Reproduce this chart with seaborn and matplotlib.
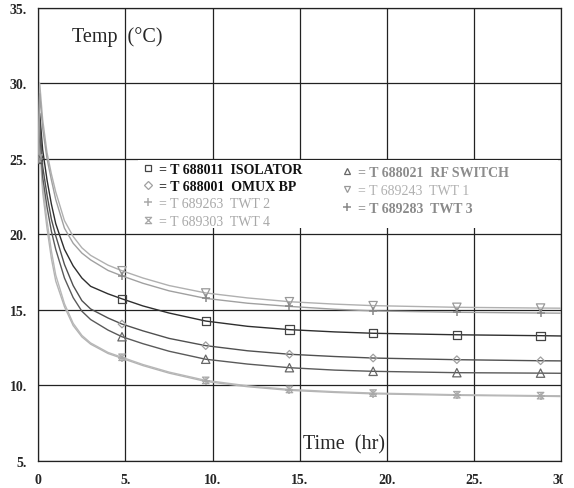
import numpy as np
import pandas as pd
import matplotlib
matplotlib.use("Agg")
import matplotlib.pyplot as plt
from matplotlib.lines import Line2D
from matplotlib.path import Path
from matplotlib.patches import Rectangle
import seaborn as sns

# Readings: time (hr) and temperature (deg C) per unit
times = [0, 0.08, 0.25, 0.5, 0.75, 1.0, 1.5, 2.0, 2.5, 3.0, 4.0, 4.8,
         6.0, 7.5, 9.6, 12.0, 14.4, 17.0, 19.2, 24.0, 28.8, 30.0]
marker_times = [0, 4.8, 9.6, 14.4, 19.2, 24.0, 28.8]

isolator = [25.0, 28.0, 25.6, 23.6, 22.0, 20.7, 19.0, 17.9, 17.1, 16.55, 16.05, 15.72,
            15.25, 14.78, 14.25, 13.9, 13.68, 13.53, 13.44, 13.34, 13.28, 13.26]
omux_bp = [25.0, 27.5, 24.5, 22.6, 21.0, 19.9, 18.0, 16.6, 15.6, 15.05, 14.45, 14.05,
           13.6, 13.1, 12.62, 12.28, 12.05, 11.9, 11.8, 11.69, 11.62, 11.61]
rf_switch = [25.0, 27.0, 23.8, 21.8, 20.2, 19.0, 17.1, 15.8, 14.9, 14.35, 13.65, 13.21,
             12.75, 12.25, 11.72, 11.4, 11.16, 11.0, 10.92, 10.83, 10.8, 10.79]
twt1 = [25.0, 30.0, 27.6, 25.4, 24.0, 22.8, 20.9, 19.85, 19.1, 18.6, 17.95, 17.58,
        17.1, 16.6, 16.11, 15.78, 15.53, 15.37, 15.27, 15.16, 15.11, 15.1]
twt2 = [25.0, 26.0, 22.8, 20.4, 18.4, 16.9, 15.2, 13.95, 13.2, 12.72, 12.1, 11.78,
        11.3, 10.8, 10.25, 9.9, 9.66, 9.52, 9.43, 9.33, 9.27, 9.25]
twt3 = [25.0, 29.3, 27.0, 25.0, 23.6, 22.3, 20.4, 19.4, 18.75, 18.3, 17.6, 17.24,
        16.75, 16.25, 15.75, 15.43, 15.22, 15.03, 14.92, 14.83, 14.78, 14.77]
twt4 = [25.0, 26.5, 23.2, 20.9, 18.9, 17.3, 15.4, 14.1, 13.3, 12.8, 12.17, 11.85,
        11.37, 10.87, 10.32, 9.96, 9.72, 9.57, 9.48, 9.37, 9.31, 9.3]

labels = ["= T 688011  ISOLATOR", "= T 688001  OMUX BP", "= T 689263  TWT 2",
          "= T 689303  TWT 4", "= T 688021  RF SWITCH", "= T 689243  TWT 1",
          "= T 689283  TWT 3"]
x_ticks = [0, 5, 10, 15, 20, 25, 30]
x_tick_labels = ["0", "5.", "10.", "15.", "20.", "25.", "30."]
y_ticks = [5, 10, 15, 20, 25, 30, 35]
y_tick_labels = ["5.", "10.", "15.", "20.", "25.", "30.", "35."]

# hourglass-like symbol used for TWT 4
hourglass = Path([(-1, 1), (1, 1), (-1, -1), (1, -1), (-1, 1)],
                 [Path.MOVETO, Path.LINETO, Path.LINETO, Path.LINETO, Path.CLOSEPOLY])

# series: values, line colour, marker, marker colour, label colour, bold label
series = [
    (isolator, "#2e2e2e", "s", "#444444", "#111111", True),
    (omux_bp, "#505050", "D", "#a0a0a0", "#111111", True),
    (twt2, "#b4b4b4", "+", "#aaaaaa", "#a8a8a8", False),
    (twt4, "#b8b8b8", hourglass, "#a8a8a8", "#a8a8a8", False),
    (rf_switch, "#5a5a5a", "^", "#666666", "#8c8c8c", True),
    (twt1, "#b0b0b0", "v", "#999999", "#b0b0b0", False),
    (twt3, "#a0a0a0", "+", "#888888", "#8a8a8a", True),
]
marker_sizes = [36, 15, 36, 22, 36, 36, 30]
legend_sizes = [5, 3.6, 6, 4.5, 5, 5, 6]

sns.set_style("white")
plt.rcParams["font.family"] = ["Liberation Serif", "DejaVu Serif"]

fig = plt.figure(figsize=(5.74, 4.89), dpi=100)
ax = fig.add_axes([0.0667, 0.0558, 0.9115, 0.9264])
ax.set_axisbelow(True)

for (vals, lc, mk, mc, tc, bold), lab, ms in zip(series, labels, marker_sizes):
    df = pd.DataFrame({"t": times, "T": vals})
    sns.lineplot(data=df, x="t", y="T", color=lc, lw=1.0, ax=ax, zorder=3)
    dm = df[df["t"].isin(marker_times)]
    if mk == "+":
        sns.scatterplot(data=dm, x="t", y="T", marker="+", color=mc, s=ms,
                        linewidth=1.1, ax=ax, zorder=4)
    else:
        sns.scatterplot(data=dm, x="t", y="T", marker=mk, facecolor="none",
                        edgecolor=mc, s=ms, linewidth=0.9, ax=ax, zorder=4)

ax.set_xlim(0, 30)
ax.set_ylim(5, 35)
ax.set_xticks(x_ticks)
ax.set_xticklabels(x_tick_labels, fontweight="bold", fontsize=10)
ax.set_yticks(y_ticks)
ax.set_yticklabels(y_tick_labels, fontweight="bold", fontsize=10)
ax.set_xticks(np.arange(2.5, 30, 5), minor=True)
ax.set_yticks(np.arange(7.5, 35, 5), minor=True)
ax.tick_params(which="major", direction="out", length=3, width=0.8, color="#333333", pad=5)
ax.tick_params(which="minor", direction="in", length=4, width=0.8, color="#333333")
ax.tick_params(axis="x", pad=6)
ax.grid(True, which="major", color="#222222", lw=0.9)
for sp in ax.spines.values():
    sp.set_color("#222222")
    sp.set_linewidth(0.9)
ax.set_xlabel("")
ax.set_ylabel("")

ax.text(0.065, 0.938, "Temp  (°C)", transform=ax.transAxes, fontsize=14.5, va="center")
ax.text(0.506, 0.037, "Time  (hr)", transform=ax.transAxes, fontsize=14.5, va="center")

# white block behind the key hides the grid there, as in the original
ax.add_patch(Rectangle((138 / 574, 1 - 229 / 489), 420 / 574, 68 / 489,
                       transform=fig.transFigure, facecolor="white", edgecolor="none",
                       zorder=2))


def make_handle(mk, mc, size):
    if mk == "+":
        return Line2D([], [], ls="none", marker="+", color=mc, markersize=size, mew=1.1)
    return Line2D([], [], ls="none", marker=mk, mfc="none", mec=mc, markersize=size, mew=0.9)


handles = [make_handle(s[2], s[3], sz) for s, sz in zip(series, legend_sizes)]

leg1 = ax.legend(handles[:4], labels[:4], loc="upper left",
                 bbox_to_anchor=(142 / 574, 1 - 164 / 489), bbox_transform=fig.transFigure,
                 frameon=False, fontsize=10, handlelength=0.8, handletextpad=0.45,
                 labelspacing=0.3, borderpad=0, borderaxespad=0)
ax.add_artist(leg1)
leg2 = ax.legend(handles[4:], labels[4:], loc="upper left",
                 bbox_to_anchor=(341 / 574, 1 - 167 / 489), bbox_transform=fig.transFigure,
                 frameon=False, fontsize=10, handlelength=0.8, handletextpad=0.45,
                 labelspacing=0.36, borderpad=0, borderaxespad=0)
for leg, sub in ((leg1, series[:4]), (leg2, series[4:])):
    leg.set_zorder(5)
    for txt, s in zip(leg.get_texts(), sub):
        txt.set_color(s[4])
        txt.set_fontweight("bold" if s[5] else "normal")

# the source image is cut just past the right edge of the plot
fig.patches.append(Rectangle((563 / 574, 0), 1, 1, transform=fig.transFigure,
                             facecolor="white", edgecolor="none", zorder=10))

fig.savefig("out.png", dpi=100)
